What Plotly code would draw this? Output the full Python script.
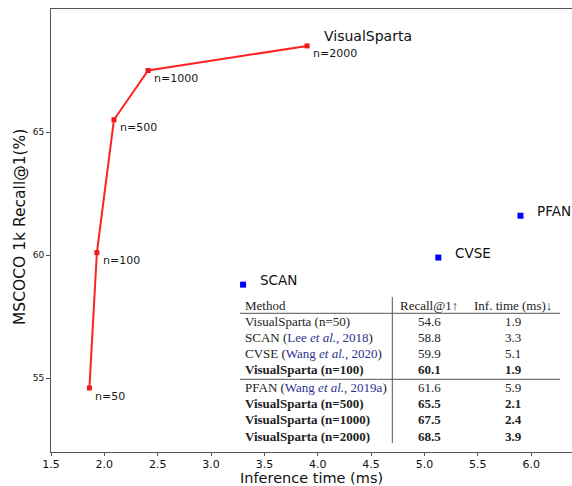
import plotly.graph_objects as go

# ---- data ----
vs_time = [1.86, 1.93, 2.09, 2.41, 3.90]
vs_recall = [54.6, 60.1, 65.5, 67.5, 68.5]
vs_labels = ["n=50", "n=100", "n=500", "n=1000", "n=2000"]

base_names = ["SCAN", "CVSE", "PFAN"]
base_time = [3.30, 5.13, 5.90]
base_recall = [58.8, 59.9, 61.6]

x_ticks = [1.5, 2.0, 2.5, 3.0, 3.5, 4.0, 4.5, 5.0, 5.5, 6.0]
y_ticks = [55, 60, 65]

tbl_header = ["Method", "Recall@1↑", "Inf. time (ms)↓"]
tbl_method = ["VisualSparta (n=50)", "SCAN", "CVSE", "VisualSparta (n=100)",
              "PFAN", "VisualSparta (n=500)", "VisualSparta (n=1000)", "VisualSparta (n=2000)"]
tbl_cite = ["", "Lee <i>et al.</i>, 2018", "Wang <i>et al.</i>, 2020", "",
            "Wang <i>et al.</i>, 2019a", "", "", ""]
tbl_recall = ["54.6", "58.8", "59.9", "60.1", "61.6", "65.5", "67.5", "68.5"]
tbl_time = ["1.9", "3.3", "5.1", "1.9", "5.9", "2.1", "2.4", "3.9"]
tbl_bold = [False, False, False, True, False, True, True, True]

# ---- layout geometry ----
W, H = 572, 486
ML, MR, MT, MB = 51, 0, 9, 34
PW, PH = W - ML - MR, H - MT - MB


def px2x(px):
    return (px - ML) / PW


def px2y(py):
    return (H - MB - py) / PH


fig = go.Figure()

fig.add_trace(go.Scatter(
    x=vs_time, y=vs_recall, mode="lines+markers",
    line=dict(color="#ff2222", width=2),
    marker=dict(symbol="square", size=5, color="#f01818"),
    showlegend=False, hoverinfo="skip", cliponaxis=False))

fig.add_trace(go.Scatter(
    x=base_time, y=base_recall, mode="markers",
    marker=dict(symbol="square", size=6, color="#0000ff"),
    showlegend=False, hoverinfo="skip"))

ann = []
lbl_font = dict(family="DejaVu Sans", size=11, color="#1a1a1a")
for x, y, t in zip(vs_time, vs_recall, vs_labels):
    ann.append(dict(x=x, y=y, text=t, showarrow=False, xanchor="left", yanchor="middle",
                    xshift=4, yshift=-8, font=lbl_font))
ann.append(dict(x=vs_time[-1], y=vs_recall[-1], text="VisualSparta", showarrow=False,
                xanchor="left", yanchor="middle", xshift=15, yshift=10,
                font=dict(family="DejaVu Sans", size=14, color="#111")))
for x, y, t in zip(base_time, base_recall, base_names):
    ann.append(dict(x=x, y=y, text=t, showarrow=False, xanchor="left", yanchor="middle",
                    xshift=15, yshift=5, font=dict(family="DejaVu Sans", size=13.5, color="#111")))

# axis titles
ann.append(dict(xref="paper", yref="paper", x=0.5, y=px2y(487), text="Inference time (ms)",
                showarrow=False, xanchor="center", yanchor="bottom", borderpad=0,
                font=dict(family="DejaVu Sans", size=14.5, color="#111")))
ann.append(dict(xref="paper", yref="paper", x=px2x(20), y=px2y(227), text="MSCOCO 1k Recall@1(%)",
                showarrow=False, xanchor="center", yanchor="middle", textangle=-90,
                font=dict(family="DejaVu Sans", size=15.5, color="#111")))

# ---- table ----
tfont = dict(family="Liberation Serif", size=13, color="#222")
cite_color = "#2e3192"
col_method_px, col_recall_px, col_time_px = 243, 429, 513
header_py = 305
row_step = 16.2


def row_py(i):
    return header_py + row_step * (i + 1) + (1.5 if i >= 4 else 0)


ann.append(dict(xref="paper", yref="paper", x=px2x(col_method_px), y=px2y(header_py),
                text=tbl_header[0], showarrow=False, xanchor="left", yanchor="middle", font=tfont))
ann.append(dict(xref="paper", yref="paper", x=px2x(col_recall_px), y=px2y(header_py),
                text=tbl_header[1], showarrow=False, xanchor="center", yanchor="middle", font=tfont))
ann.append(dict(xref="paper", yref="paper", x=px2x(col_time_px), y=px2y(header_py),
                text=tbl_header[2], showarrow=False, xanchor="center", yanchor="middle", font=tfont))

for i in range(len(tbl_method)):
    m = tbl_method[i]
    if tbl_cite[i]:
        m = f"{m} (<span style='color:{cite_color}'>{tbl_cite[i]}</span>)"
    r, t = tbl_recall[i], tbl_time[i]
    if tbl_bold[i]:
        m, r, t = f"<b>{m}</b>", f"<b>{r}</b>", f"<b>{t}</b>"
    py = row_py(i)
    ann.append(dict(xref="paper", yref="paper", x=px2x(col_method_px), y=px2y(py), text=m,
                    showarrow=False, xanchor="left", yanchor="middle", font=tfont))
    ann.append(dict(xref="paper", yref="paper", x=px2x(col_recall_px), y=px2y(py), text=r,
                    showarrow=False, xanchor="center", yanchor="middle", font=tfont))
    ann.append(dict(xref="paper", yref="paper", x=px2x(col_time_px), y=px2y(py), text=t,
                    showarrow=False, xanchor="center", yanchor="middle", font=tfont))

rule = dict(color="#555", width=1)
shapes = [
    dict(type="line", xref="paper", yref="paper", x0=px2x(240), x1=px2x(560),
         y0=px2y(313.3), y1=px2y(313.3), line=rule),
    dict(type="line", xref="paper", yref="paper", x0=px2x(240), x1=px2x(560),
         y0=px2y(379.3), y1=px2y(379.3), line=rule),
    dict(type="line", xref="paper", yref="paper", x0=px2x(392.3), x1=px2x(392.3),
         y0=px2y(297), y1=px2y(443), line=rule),
]

fig.update_layout(
    width=W, height=H,
    margin=dict(l=ML, r=MR, t=MT, b=MB, pad=0, autoexpand=False),
    paper_bgcolor="white", plot_bgcolor="white",
    annotations=ann, shapes=shapes,
    xaxis=dict(range=[1.5, 1.5 + PW / 106.7], tickvals=x_ticks,
               ticktext=[f"{v:.1f}" for v in x_ticks], automargin=False,
               showline=True, mirror=True, linecolor="#555", linewidth=1,
               ticks="outside", ticklen=3, tickcolor="#555", ticklabelstandoff=-1,
               showgrid=False, zeroline=False,
               tickfont=dict(family="DejaVu Sans", size=11, color="#111")),
    yaxis=dict(range=[52, 70], tickvals=y_ticks, automargin=False,
               showline=True, mirror=False, linecolor="#555", linewidth=1,
               ticks="outside", ticklen=4, tickcolor="#555",
               showgrid=False, zeroline=False,
               tickfont=dict(family="DejaVu Sans", size=9, color="#111")),
)

fig.write_html("out.html", config={"displayModeBar": False},
               post_script="document.body.style.margin='0';document.body.style.overflow='hidden';")
